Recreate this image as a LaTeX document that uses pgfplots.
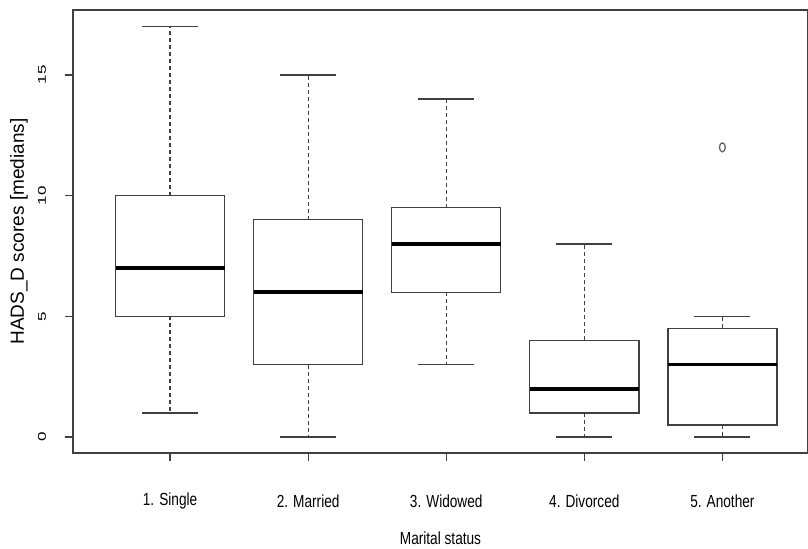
\documentclass[border=0pt]{standalone}
\usepackage{fontspec}
\setmainfont{Liberation Sans}
\newfontfamily\narrowfont{Liberation Sans}[FakeStretch=0.78]
\usepackage{graphicx}
\usepackage{pgfplots}
\pgfplotsset{compat=1.18}
\usepgfplotslibrary{statistics}
\begin{document}
\begin{tikzpicture}
\begin{axis}[
  scale only axis, width=735pt, height=443pt,
  xmin=0.297, xmax=5.62, ymin=-0.66, ymax=17.69,
  axis line style={draw=black!75, line width=1.3pt},
  every tick/.style={draw=black!75, line width=1.3pt},
  tick align=outside, major tick length=8pt,
  xtick pos=bottom, ytick pos=left,
  xtick={1,2,3,4,5},
  xticklabels={1. Single,2. Married,3. Widowed,4. Divorced,5. Another},
  x tick label style={font=\narrowfont\fontsize{17.5}{20}\selectfont, anchor=center, yshift=-40pt},
  ytick={0,5,10,15},
  yticklabel={\scalebox{1}[0.66]{\fontsize{17}{18}\selectfont\pgfmathprintnumber[assume math mode=true]{\tick}}},
  y tick label style={xshift=-23pt, anchor=center, rotate=90},
  every axis x label/.style={at={(axis description cs:0.5,-0.192)}, anchor=center, font=\narrowfont\fontsize{17.5}{20}\selectfont},
  every axis y label/.style={at={(axis description cs:-0.0735,0.5)}, rotate=90, anchor=center, font=\fontsize{19}{22}\selectfont},
  xlabel={Marital status},
  ylabel={HADS\_D scores [medians]},
  boxplot/draw direction=y,
  boxplot/draw/lower whisker/.code={%
    \draw[dash pattern=on 4pt off 3pt] (boxplot box cs:\pgfplotsboxplotvalue{lower quartile},0.5) -- (boxplot box cs:\pgfplotsboxplotvalue{lower whisker},0.5);
    \draw[solid] (boxplot whisker cs:\pgfplotsboxplotvalue{lower whisker},0) -- (boxplot whisker cs:\pgfplotsboxplotvalue{lower whisker},1);
  },
  boxplot/draw/upper whisker/.code={%
    \draw[dash pattern=on 4pt off 3pt] (boxplot box cs:\pgfplotsboxplotvalue{upper quartile},0.5) -- (boxplot box cs:\pgfplotsboxplotvalue{upper whisker},0.5);
    \draw[solid] (boxplot whisker cs:\pgfplotsboxplotvalue{upper whisker},0) -- (boxplot whisker cs:\pgfplotsboxplotvalue{upper whisker},1);
  },
  boxplot/draw/median/.code={%
    \draw[line width=3.5pt, black] (boxplot box cs:\pgfplotsboxplotvalue{median},0) -- (boxplot box cs:\pgfplotsboxplotvalue{median},1);
  },
  bp/.style={draw=black!75, line width=1.3pt, solid, mark=o,
    mark options={solid, draw=black!65, line width=1.2pt, xscale=0.65}, mark size=4.5pt,
    boxplot/box extend=0.79, boxplot/whisker extend=0.405},
]
\addplot[bp, boxplot prepared={draw position=1, lower whisker=1, lower quartile=5, median=7, upper quartile=10, upper whisker=17}] coordinates {};
\addplot[bp, boxplot prepared={draw position=2, lower whisker=0, lower quartile=3, median=6, upper quartile=9, upper whisker=15}] coordinates {};
\addplot[bp, boxplot prepared={draw position=3, lower whisker=3, lower quartile=6, median=8, upper quartile=9.5, upper whisker=14}] coordinates {};
\addplot[bp, boxplot prepared={draw position=4, lower whisker=0, lower quartile=1, median=2, upper quartile=4, upper whisker=8}] coordinates {};
\addplot[bp, boxplot prepared={draw position=5, lower whisker=0, lower quartile=0.5, median=3, upper quartile=4.5, upper whisker=5}] coordinates {(0,12)};
\end{axis}
\pgfresetboundingbox
\path[use as bounding box] ([xshift=-73pt,yshift=-96pt]current axis.south west) rectangle ([yshift=10pt]current axis.north east);
\end{tikzpicture}
\end{document}
